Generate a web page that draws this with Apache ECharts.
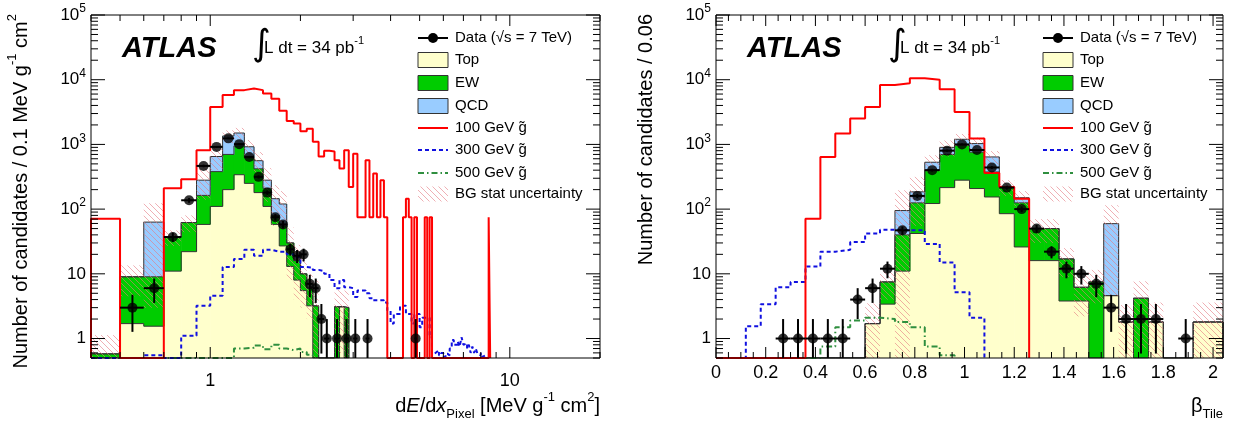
<!DOCTYPE html>
<html>
<head>
<meta charset="utf-8">
<title>ATLAS dE/dx and beta</title>
<script src="https://cdn.jsdelivr.net/npm/echarts@6.0.0/dist/echarts.min.js"></script>
<style>
  html, body { margin: 0; padding: 0; background: #fff; }
  #chart { width: 1240px; height: 425px; }
</style>
</head>
<body>
<div id="chart"></div>
<script>
// left panel: dE/dx pixel, bins of 0.1 starting at 0.4
const dedxStart = 0.4
const dedxWidth = 0.1
const dedxTop = [0, 1.7, 1.55, 11, 22, 58, 110, 200, 340, 250, 180, 110, 58, 27, 13, 8, 5.5, 3.2, 0, 0, 0, 0, 0, 3.1, 0]
const dedxEW = [0.58, 7.3, 7.45, 26, 40, 105, 270, 500, 610, 370, 240, 100, 22, 28, 17, 8, 4.5, 2.8, 3.2, 0, 0, 0, 3.1, 0, 3.0]
const dedxQCD = [0, 0, 54, 0, 0, 117, 270, 650, 550, 300, 140, 70, 65, 65, 0, 0, 0, 0, 0, 0, 0, 0, 0, 0, 0]
const dedxBGErr = [0.55, 4.5, 60, 10, 18, 140, 250, 300, 300, 250, 200, 150, 90, 70, 22, 12, 7, 4, 5, 0, 0, 0, 2.5, 2.5, 2.5]
const dedxData = [
  0, 3, 6, 37, 137, 465, 915, 1240, 1010, 640,
  315, 180, 75, 58, 24, 19, 20, 7, 6, 2,
  1, 0, 1, 0, 1, 0, 1, 0, 0, 1,
  0, 0, 0, 0, 0, 0, 0, 0, 0, 0,
  0, 0, 0, 0, 1
]
const dedxGluino100 = [
  71, 0, 0, 210, 290, 815, 3800, 5800, 6900, 7300,
  6900, 6100, 5100, 3300, 2300, 2100, 1600, 1750, 1100, 650,
  800, 780, 570, 425, 815, 220, 720, 75, 75, 570,
  75, 355, 75, 280, 75, 0, 0, 0, 0, 0,
  75, 145, 75, 0, 75, 0, 0, 0, 75, 0,
  75, 0, 0, 0, 0, 0, 0, 0, 0, 0,
  0, 0, 0, 0, 0, 0, 0, 0, 0, 0,
  0, 0, 0, 0, 0, 0, 0, 0, 0, 0,
  0, 75
]
const dedxGluino300 = [
  0, 0, 0.55, 0, 1.1, 3.2, 4.6, 12.7, 17, 23.5,
  19, 23.5, 22, 22, 20, 18, 12.7, 12.5, 11.5, 11,
  10, 8, 6, 8, 6.2, 6, 4.4, 5.5, 5.5, 5,
  4.2, 3.9, 3.9, 3.9, 3.6, 2.7, 1.7, 2.4, 2.4, 3.2,
  3.2, 2.4, 2.4, 1.7, 2.4, 2.4, 1.5, 2.1, 2.1, 2.1,
  1.05, 0.58, 0.62, 0.66, 0.55, 0.6, 0.52, 0.58, 0.55, 0.7,
  0.95, 0.8, 0.8, 0.9, 0.75, 1.05, 0.8, 0.85, 0.7, 0.8,
  0.6, 0.75, 0.6, 0.7, 0.58, 0.55, 0.6, 0.52, 0.55, 0.52
]
const dedxGluino500 = [0, 0, 0, 0, 0, 0, 0, 0, 0.7, 0.72, 0.78, 0.68, 0.8, 0.7, 0.66, 0.7, 0.62, 0.56]

// right panel: beta Tile, bins of 0.06 starting at 0
const betaStart = 0
const betaWidth = 0.06
const betaTop = [0, 0, 0, 0, 0, 0, 0, 0, 0, 0, 1.7, 3.4, 11, 42, 122, 215, 280, 208, 154, 85, 26, 16, 16, 3.8, 3.8, 0, 4.6, 1.8, 0, 1.8, 0, 0, 1.8, 1.8]
const betaEW = [0, 0, 0, 0, 0, 0, 0, 0, 0, 0, 0, 4.1, 29, 83, 278, 485, 690, 552, 221, 135, 99, 34, 34, 13.2, 2.4, 7.5, 0, 0, 4.2, 0, 0, 0, 0, 0]
const betaQCD = [0, 0, 0, 0, 0, 0, 0, 0, 0, 0, 0, 0, 55, 60, 130, 200, 230, 270, 265, 0, 25, 0, 0, 0, 0, 0, 55, 0, 0, 0, 0, 0, 0, 0]
const betaBGErr = [0, 0, 0, 0, 0, 0, 0, 0, 0, 0, 1.8, 3.5, 100, 130, 150, 250, 250, 250, 150, 60, 40, 20, 20, 8, 4, 4, 55, 1.5, 3.5, 1.8, 0, 0, 1.8, 1.8]
const betaData = [0, 0, 0, 0, 1, 1, 1, 1, 1, 4, 6, 12, 47, 160, 400, 800, 1000, 820, 440, 215, 100, 50, 22, 12, 10, 7, 3, 2, 2, 2, 0, 1, 0, 0]
const betaGluino100 = [0, 0, 0, 0, 0, 0, 71, 640, 1470, 2520, 3800, 8300, 8800, 10500, 10000, 7100, 3170, 1230, 360, 220, 145]
const betaGluino300 = [0, 0, 1.55, 3.4, 6.2, 7.5, 13, 22, 23.5, 31, 42, 48, 47, 47, 29, 15, 5.2, 2.1]
const betaGluino500 = [0, 0, 0, 0, 0, 0, 0, 0.75, 1.5, 1.9, 2.1, 2.0, 1.8, 1.5, 0.75, 0.55]

// axis ticks
const yDecades = [0.1, 1, 10, 100, 1000, 10000, 100000]
const dedxMajorTicks = [1, 10]
const dedxMinorTicks = [0.4, 0.5, 0.6, 0.7, 0.8, 0.9, 2, 3, 4, 5, 6, 7, 8, 9, 20]
const betaMajorStep = 0.2
const betaMinorStep = 0.05

const legendNames = ['Data (\u221As = 7 TeV)', 'Top', 'EW', 'QCD', '100 GeV g\u0303', '300 GeV g\u0303', '500 GeV g\u0303', 'BG stat uncertainty']

const FONT = '"Liberation Sans", Arial, Helvetica, sans-serif'
const Y_MIN = 0.5
const Y_MAX = 1e5
const COLOR_TOP = '#ffffcc'
const COLOR_EW = '#00cc00'
const COLOR_QCD = '#99ccff'
const COLOR_OUTLINE = '#333333'
const RED = '#ff0000'
const BLUE = '#1010e0'
const GREEN = '#2f8f3f'

const hatch = makeHatch()

function makeHatch() {
  const c = document.createElement('canvas')
  c.width = 6
  c.height = 6
  const g = c.getContext('2d')
  g.strokeStyle = 'rgba(228, 120, 130, 0.75)'
  g.lineWidth = 0.8
  g.beginPath()
  for (const k of [-6, 0, 6]) {
    g.moveTo(k - 1, -1)
    g.lineTo(k + 7, 7)
  }
  g.stroke()
  return { image: c, repeat: 'repeat' }
}

function stepPoints(start, width, vals) {
  const pts = [[start, Y_MIN]]
  vals.forEach((v, i) => {
    const y = Math.max(v, Y_MIN)
    pts.push([start + i * width, y], [start + (i + 1) * width, y])
  })
  pts.push([start + vals.length * width, Y_MIN])
  return pts
}

function fillRect(fill, pad) {
  return function (params, api) {
    const p0 = api.coord([api.value(0), api.value(3)])
    const p1 = api.coord([api.value(1), api.value(2)])
    return {
      type: 'rect',
      shape: { x: p0[0], y: p0[1], width: p1[0] - p0[0] + pad, height: p1[1] - p0[1] },
      style: { fill: fill }
    }
  }
}

function renderErrorBar(params, api) {
  const a = api.coord([api.value(0), api.value(3)])
  const b = api.coord([api.value(1), api.value(3)])
  const top = api.coord([api.value(2), api.value(5)])
  const bot = api.coord([api.value(2), api.value(4)])
  const style = { stroke: '#000', lineWidth: 2 }
  return {
    type: 'group',
    children: [
      { type: 'line', shape: { x1: a[0], y1: a[1], x2: b[0], y2: b[1] }, style: style },
      { type: 'line', shape: { x1: top[0], y1: top[1], x2: bot[0], y2: bot[1] }, style: style }
    ]
  }
}

function yTickList() {
  const ticks = []
  yDecades.forEach(d => {
    if (d >= Y_MIN && d <= Y_MAX) ticks.push({ v: d, len: 14 })
    for (let m = 2; m <= 9; m++) {
      const v = m * d
      if (v >= Y_MIN && v < Y_MAX) ticks.push({ v: v, len: 7 })
    }
  })
  return ticks
}

function frameRenderer(xTicks) {
  const yTicks = yTickList()
  return function (params, api) {
    const cs = params.coordSys
    const left = cs.x
    const top = cs.y
    const right = cs.x + cs.width
    const bottom = cs.y + cs.height
    const kids = []
    const seg = (x1, y1, x2, y2) => kids.push({ type: 'line', shape: { x1: x1, y1: y1, x2: x2, y2: y2 }, style: { stroke: '#000', lineWidth: 1 } })
    yTicks.forEach(t => {
      const y = api.coord([api.value(0), t.v])[1]
      seg(left, y, left + t.len, y)
      seg(right, y, right - t.len, y)
    })
    xTicks.forEach(t => {
      const x = api.coord([t.v, api.value(1)])[0]
      seg(x, bottom, x, bottom - t.len)
      seg(x, top, x, top + t.len)
    })
    kids.push({ type: 'rect', shape: { x: left, y: top, width: cs.width, height: cs.height }, style: { fill: null, stroke: '#000', lineWidth: 1 } })
    return { type: 'group', children: kids }
  }
}

function panelSeries(p, h, xTicks, xRef) {
  const edge = i => h.start + i * h.width
  const cumTop = h.top
  const cumEW = h.top.map((v, i) => v + h.ew[i])
  const cumAll = cumEW.map((v, i) => v + h.qcd[i])
  const rects = (lo, hi) => hi
    .map((v, i) => [edge(i), edge(i + 1), Math.max(lo ? lo[i] : 0, Y_MIN), v])
    .filter(d => d[3] > d[2])
  const band = cumAll
    .map((v, i) => [edge(i), edge(i + 1), Math.max(v - h.err[i], Y_MIN), v + h.err[i], h.err[i]])
    .filter(d => d[4] > 0)
  const points = []
  const errors = []
  h.data.forEach((n, i) => {
    if (n <= 0) return
    const xc = (edge(i) + edge(i + 1)) / 2
    points.push([xc, n])
    errors.push([edge(i), edge(i + 1), xc, n, Math.max(n - Math.sqrt(n), Y_MIN), n + Math.sqrt(n)])
  })
  const base = { xAxisIndex: p, yAxisIndex: p, silent: true, animation: false }
  const outline = vals => Object.assign({}, base, {
    type: 'line', data: stepPoints(h.start, h.width, vals), symbol: 'none', z: 3,
    lineStyle: { color: COLOR_OUTLINE, width: 1 }
  })
  const signal = (vals, color, type, z) => Object.assign({}, base, {
    type: 'line', data: stepPoints(h.start, h.width, vals), symbol: 'none', z: z,
    lineStyle: { color: color, width: 2, type: type }
  })
  return [
    Object.assign({}, base, { type: 'custom', name: 'Top', renderItem: fillRect(COLOR_TOP, 0.6), data: rects(null, cumTop), encode: { x: [0, 1], y: [2, 3] }, z: 2 }),
    Object.assign({}, base, { type: 'custom', name: 'EW', renderItem: fillRect(COLOR_EW, 0.6), data: rects(cumTop, cumEW), encode: { x: [0, 1], y: [2, 3] }, z: 2 }),
    Object.assign({}, base, { type: 'custom', name: 'QCD', renderItem: fillRect(COLOR_QCD, 0.6), data: rects(cumEW, cumAll), encode: { x: [0, 1], y: [2, 3] }, z: 2 }),
    outline(cumAll),
    outline(cumEW),
    outline(cumTop),
    Object.assign({}, base, { type: 'custom', name: 'BG stat uncertainty', renderItem: fillRect(hatch, 0), data: band, encode: { x: [0, 1], y: [2, 3] }, z: 4 }),
    signal(h.g500, GREEN, [6, 3, 1.5, 3], 5),
    signal(h.g300, BLUE, [4, 3], 5),
    signal(h.g100, RED, 'solid', 6),
    Object.assign({}, base, { type: 'custom', name: 'errors', renderItem: renderErrorBar, data: errors, encode: { x: [0, 1], y: [3, 4] }, z: 8 }),
    Object.assign({}, base, { type: 'scatter', name: 'Data', data: points, symbol: 'circle', symbolSize: 10, itemStyle: { color: '#000' }, z: 9 }),
    Object.assign({}, base, { type: 'custom', name: 'frame', renderItem: frameRenderer(xTicks), data: [[xRef, 1]], encode: { x: 0, y: 1 }, z: 10 })
  ]
}

function isDecade(v) {
  const l = Math.log10(v)
  return Math.abs(l - Math.round(l)) < 1e-6
}

function yLabel(v) {
  if (!isDecade(v)) return ''
  const e = Math.round(Math.log10(v))
  if (e === 0) return '1'
  if (e === 1) return '10'
  return '10{sup|' + e + '}'
}

const richSup = { sup: { fontSize: 12, lineHeight: 12, verticalAlign: 'top', fontFamily: FONT, color: '#000' } }

function yAxisFor(grid) {
  return {
    type: 'log', gridIndex: grid, logBase: 10, min: Y_MIN, max: Y_MAX, splitNumber: 6,
    axisLine: { show: false }, axisTick: { show: false }, splitLine: { show: false },
    axisLabel: { formatter: yLabel, fontSize: 17, lineHeight: 24, fontFamily: FONT, color: '#000', margin: 5, rich: richSup, showMinLabel: false }
  }
}

const dedxXTicks = dedxMajorTicks.map(v => ({ v: v, len: 11 })).concat(dedxMinorTicks.map(v => ({ v: v, len: 6 })))
const betaXTicks = []
for (let i = 0; i * betaMinorStep <= 2.04 + 1e-9; i++) {
  const v = +(i * betaMinorStep).toFixed(2)
  const major = Math.abs(v / betaMajorStep - Math.round(v / betaMajorStep)) < 1e-6
  betaXTicks.push({ v: v, len: major ? 11 : 6 })
}

const left = {
  start: dedxStart, width: dedxWidth, top: dedxTop, ew: dedxEW, qcd: dedxQCD, err: dedxBGErr,
  data: dedxData, g100: dedxGluino100, g300: dedxGluino300, g500: dedxGluino500
}
const right = {
  start: betaStart, width: betaWidth, top: betaTop, ew: betaEW, qcd: betaQCD, err: betaBGErr,
  data: betaData, g100: betaGluino100, g300: betaGluino300, g500: betaGluino500
}

function text(x, y, str, opts) {
  return {
    type: 'text', x: x, y: y, rotation: opts.rotation || 0, silent: true, z: 20,
    style: Object.assign({
      text: str, fill: '#000', fontFamily: FONT, fontSize: 15,
      align: 'left', verticalAlign: 'middle'
    }, opts.style || {})
  }
}

const legendRows = [38, 60, 83, 106, 128, 150, 173, 194]

function legend(x0) {
  const w = 30
  const out = []
  const y = legendRows
  out.push({ type: 'line', shape: { x1: x0, y1: y[0], x2: x0 + w, y2: y[0] }, style: { stroke: '#000', lineWidth: 2 }, z: 20 })
  out.push({ type: 'circle', shape: { cx: x0 + w / 2, cy: y[0], r: 5 }, style: { fill: '#000' }, z: 21 })
  const box = (row, fill, stroke) => out.push({
    type: 'rect', shape: { x: x0, y: y[row] - 7.5, width: w, height: 15 },
    style: { fill: fill, stroke: stroke, lineWidth: 1 }, z: 20
  })
  box(1, COLOR_TOP, COLOR_OUTLINE)
  box(2, COLOR_EW, COLOR_OUTLINE)
  box(3, COLOR_QCD, COLOR_OUTLINE)
  const line = (row, color, dash) => out.push({
    type: 'line', shape: { x1: x0, y1: y[row], x2: x0 + w, y2: y[row] },
    style: { stroke: color, lineWidth: 2, lineDash: dash }, z: 20
  })
  line(4, RED, null)
  line(5, BLUE, [4, 3])
  line(6, GREEN, [6, 3, 1.5, 3])
  box(7, hatch, null)
  legendNames.forEach((name, i) => out.push(text(x0 + w + 7, y[i], name, {})))
  return out
}

function headline(xAtlas, xInt) {
  return [
    text(xAtlas, 49, 'ATLAS', { style: { fontSize: 29, fontWeight: 'bold', fontStyle: 'italic' } }),
    text(xInt, 46, '\u222B', { style: { fontSize: 36, fontFamily: '"DejaVu Sans", sans-serif' } }),
    text(xInt + 12, 48, 'L dt = 34 pb{sup|-1}', {
      style: { fontSize: 17, lineHeight: 26, rich: { sup: { fontSize: 11, lineHeight: 11, verticalAlign: 'top', fontFamily: FONT, fill: '#000' } } }
    })
  ]
}

const richTitle = {
  sup: { fontSize: 13, lineHeight: 13, verticalAlign: 'top', fontFamily: FONT, fill: '#000' },
  sub: { fontSize: 13, lineHeight: 13, verticalAlign: 'bottom', fontFamily: FONT, fill: '#000' },
  it: { fontSize: 20, lineHeight: 30, fontStyle: 'italic', fontFamily: FONT, fill: '#000' }
}

const graphics = []
  .concat(legend(418))
  .concat(legend(1043))
  .concat(headline(122, 252))
  .concat(headline(747, 888))
  .concat([
    text(21, 14, 'Number of candidates / 0.1 MeV g{sup|-1} cm{sup|2}', {
      rotation: Math.PI / 2, style: { fontSize: 20, lineHeight: 30, align: 'right', rich: richTitle }
    }),
    text(646, 14, 'Number of candidates / 0.06', {
      rotation: Math.PI / 2, style: { fontSize: 20, align: 'right' }
    }),
    text(600, 406, 'd{it|E}/d{it|x}{sub|Pixel} [MeV g{sup|-1} cm{sup|2}]', {
      style: { fontSize: 20, lineHeight: 30, align: 'right', rich: richTitle }
    }),
    text(1223, 406, '\u03B2{sub|Tile}', {
      style: { fontSize: 20, lineHeight: 30, align: 'right', rich: richTitle }
    })
  ])

const chart = echarts.init(document.getElementById('chart'), null, { renderer: 'canvas' })
chart.setOption({
  animation: false,
  backgroundColor: '#fff',
  grid: [
    { left: 91, top: 15, width: 509, height: 343, show: false, outerBoundsMode: 'none' },
    { left: 716, top: 15, width: 507, height: 343, show: false, outerBoundsMode: 'none' }
  ],
  xAxis: [
    {
      type: 'log', gridIndex: 0, logBase: 10, min: 0.4, max: 20,
      axisLine: { show: false }, axisTick: { show: false }, splitLine: { show: false },
      axisLabel: { formatter: v => (isDecade(v) ? String(Math.round(v)) : ''), fontSize: 18, fontFamily: FONT, color: '#000', margin: 14 }
    },
    {
      type: 'value', gridIndex: 1, min: 0, max: 2.04, interval: 0.2,
      axisLine: { show: false }, axisTick: { show: false }, splitLine: { show: false },
      axisLabel: {
        formatter: v => (Math.abs(v / 0.2 - Math.round(v / 0.2)) < 1e-6 && v <= 2.0001 ? String(+v.toFixed(1)) : ''),
        fontSize: 18, fontFamily: FONT, color: '#000', margin: 6, showMaxLabel: false
      }
    }
  ],
  yAxis: [yAxisFor(0), yAxisFor(1)],
  graphic: graphics,
  series: panelSeries(0, left, dedxXTicks, 1).concat(panelSeries(1, right, betaXTicks, 1))
})
</script>
</body>
</html>
